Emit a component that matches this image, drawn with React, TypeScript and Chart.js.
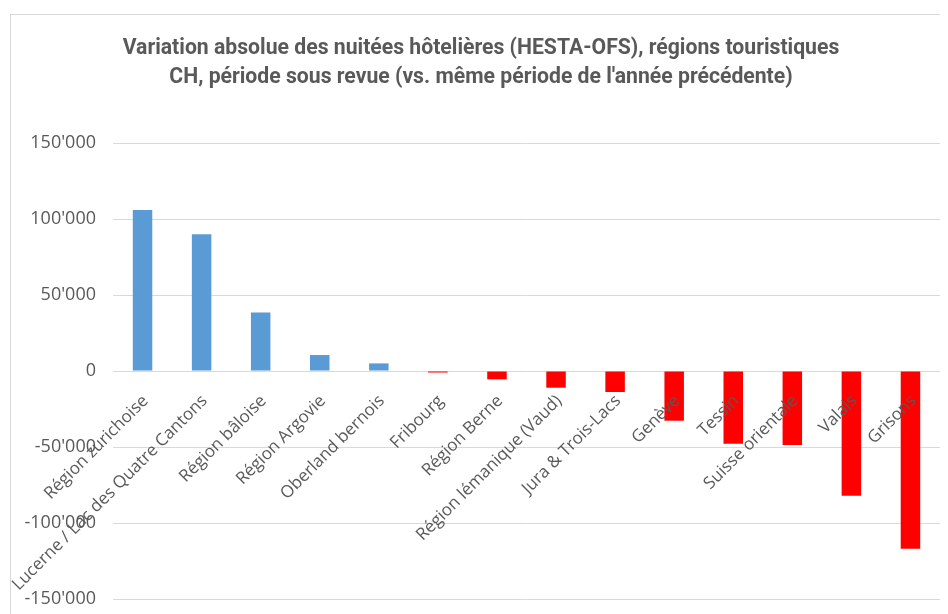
import React, { useEffect, useRef } from "react";
import { Chart, registerables } from "chart.js";

Chart.register(...registerables);

const categories: string[] = [
  "Région zurichoise",
  "Lucerne / Lac des Quatre Cantons",
  "Région bâloise",
  "Région Argovie",
  "Oberland bernois",
  "Fribourg",
  "Région Berne",
  "Région lémanique (Vaud)",
  "Jura & Trois-Lacs",
  "Genève",
  "Tessin",
  "Suisse orientale",
  "Valais",
  "Grisons",
];

const values: number[] = [
  106000, 90000, 38500, 10500, 5000, -1000, -5500, -11000, -13800, -32700,
  -47800, -48700, -82000, -117000,
];

const yTicks: number[] = [-150000, -100000, -50000, 0, 50000, 100000, 150000];

const titleLines: string[] = [
  "Variation absolue des nuitées hôtelières (HESTA-OFS), régions touristiques",
  "CH, période sous revue (vs. même période de l'année précédente)",
];

const POS_COLOR = "#5B9BD5";
const NEG_COLOR = "#FF0000";
const TEXT_COLOR = "#595959";

function fmt(v: number): string {
  const s = String(Math.abs(v)).replace(/\B(?=(\d{3})+(?!\d))/g, "'");
  return (v < 0 ? "-" : "") + s;
}

export default function App() {
  const ref = useRef<HTMLCanvasElement | null>(null);

  useEffect(() => {
    if (!ref.current) return;
    const chart = new Chart(ref.current, {
      type: "bar",
      data: {
        labels: categories,
        datasets: [
          {
            data: values,
            backgroundColor: values.map((v) => (v >= 0 ? POS_COLOR : NEG_COLOR)),
            borderWidth: 0,
            barPercentage: 0.33,
            categoryPercentage: 1,
          },
        ],
      },
      options: {
        animation: false,
        responsive: false,
        maintainAspectRatio: false,
        layout: { padding: { left: 14, right: 8, top: 0, bottom: 15 } },
        plugins: {
          legend: { display: false },
          tooltip: { enabled: false },
          title: {
            display: true,
            text: titleLines,
            color: TEXT_COLOR,
            font: {
              family: "'Liberation Sans Narrow', 'Roboto', sans-serif",
              weight: "bold",
              size: 21.2,
              lineHeight: 29 / 21.2,
            },
            padding: { top: 26, bottom: 51 },
          },
        },
        scales: {
          x: {
            position: { y: 0 } as any,
            grid: { display: false, drawTicks: false },
            border: { display: false },
            afterFit: (scale: any) => {
              scale.height = 0;
            },
            ticks: {
              z: 1,
              autoSkip: false,
              minRotation: 45,
              maxRotation: 45,
              color: TEXT_COLOR,
              padding: 20,
              labelOffset: 3,
              font: { family: "'Open Sans', sans-serif", size: 17 },
            },
          },
          y: {
            min: -150000,
            max: 150000,
            afterFit: (scale: any) => {
              scale.width = 91;
            },
            afterBuildTicks: (scale: any) => {
              scale.ticks = yTicks.map((v) => ({ value: v }));
            },
            grid: {
              color: "#d9d9d9",
              lineWidth: 1,
              drawTicks: true,
              tickLength: 17,
              tickColor: "rgba(0,0,0,0)",
            },
            border: { display: false },
            ticks: {
              color: TEXT_COLOR,
              padding: 0,
              font: { family: "'Open Sans', sans-serif", size: 18 },
              callback: (v: any) => fmt(Number(v)),
            },
          },
        },
      },
    });
    return () => chart.destroy();
  }, []);

  return (
    <div style={{ position: "relative", width: 940, height: 606, overflow: "hidden", background: "#fff" }}>
      <div
        style={{
          position: "absolute",
          left: 2,
          top: 6,
          width: 1200,
          height: 900,
          border: "1px solid #d9d9d9",
          boxSizing: "border-box",
        }}
      />
      <canvas ref={ref} width={940} height={606} style={{ position: "absolute", left: 0, top: 0, display: "block" }} />
    </div>
  );
}
